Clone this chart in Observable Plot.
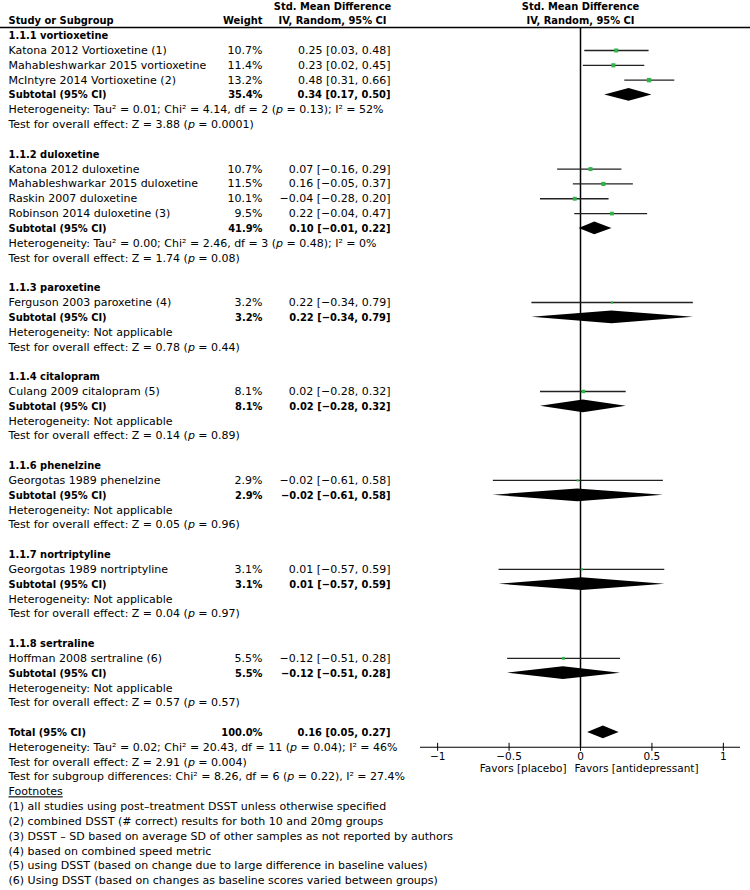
<!DOCTYPE html>
<html>
<head>
<meta charset="utf-8">
<script src="https://cdn.jsdelivr.net/npm/d3@7"></script>
<script src="https://cdn.jsdelivr.net/npm/@observablehq/plot@0.6"></script>
<style>
  html, body { margin: 0; padding: 0; background: #fff; }
</style>
</head>
<body>
<div id="chart"></div>
<script>
// ---------- DATA ----------
const groupLabels = ["1.1.1 vortioxetine", "1.1.2 duloxetine", "1.1.3 paroxetine", "1.1.4 citalopram", "1.1.6 phenelzine", "1.1.7 nortriptyline", "1.1.8 sertraline"];

const studyNames = [
  "Katona 2012 Vortioxetine (1)", "Mahableshwarkar 2015 vortioxetine", "McIntyre 2014 Vortioxetine (2)",
  "Katona 2012 duloxetine", "Mahableshwarkar 2015 duloxetine", "Raskin 2007 duloxetine", "Robinson 2014 duloxetine (3)",
  "Ferguson 2003 paroxetine (4)", "Culang 2009 citalopram (5)", "Georgotas 1989 phenelzine",
  "Georgotas 1989 nortriptyline", "Hoffman 2008 sertraline (6)"
];
const studyGroup  = [0, 0, 0, 1, 1, 1, 1, 2, 3, 4, 5, 6];
const studyWeight = [10.7, 11.4, 13.2, 10.7, 11.5, 10.1, 9.5, 3.2, 8.1, 2.9, 3.1, 5.5];
const studySMD    = [0.25, 0.23, 0.48, 0.07, 0.16, -0.04, 0.22, 0.22, 0.02, -0.02, 0.01, -0.12];
const studyLo     = [0.03, 0.02, 0.31, -0.16, -0.05, -0.28, -0.04, -0.34, -0.28, -0.61, -0.57, -0.51];
const studyHi     = [0.48, 0.45, 0.66, 0.29, 0.37, 0.20, 0.47, 0.79, 0.32, 0.58, 0.59, 0.28];

const subtotalWeight = [35.4, 41.9, 3.2, 8.1, 2.9, 3.1, 5.5];
const subtotalSMD    = [0.34, 0.10, 0.22, 0.02, -0.02, 0.01, -0.12];
const subtotalLo     = [0.17, -0.01, -0.34, -0.28, -0.61, -0.57, -0.51];
const subtotalHi     = [0.50, 0.22, 0.79, 0.32, 0.58, 0.59, 0.28];

const heterogeneity = [
  "Heterogeneity: Tau² = 0.01; Chi² = 4.14, df = 2 (p = 0.13); I² = 52%",
  "Heterogeneity: Tau² = 0.00; Chi² = 2.46, df = 3 (p = 0.48); I² = 0%",
  "Heterogeneity: Not applicable",
  "Heterogeneity: Not applicable",
  "Heterogeneity: Not applicable",
  "Heterogeneity: Not applicable",
  "Heterogeneity: Not applicable"
];
const overallEffect = [
  "Test for overall effect: Z = 3.88 (p = 0.0001)",
  "Test for overall effect: Z = 1.74 (p = 0.08)",
  "Test for overall effect: Z = 0.78 (p = 0.44)",
  "Test for overall effect: Z = 0.14 (p = 0.89)",
  "Test for overall effect: Z = 0.05 (p = 0.96)",
  "Test for overall effect: Z = 0.04 (p = 0.97)",
  "Test for overall effect: Z = 0.57 (p = 0.57)"
];

const totalWeight = 100.0;
const totalSMD = 0.16, totalLo = 0.05, totalHi = 0.27;
const totalNotes = [
  "Heterogeneity: Tau² = 0.02; Chi² = 20.43, df = 11 (p = 0.04); I² = 46%",
  "Test for overall effect: Z = 2.91 (p = 0.004)",
  "Test for subgroup differences: Chi² = 8.26, df = 6 (p = 0.22), I² = 27.4%"
];
const footnotes = [
  "(1) all studies using post–treatment DSST unless otherwise specified",
  "(2) combined DSST (# correct) results for both 10 and 20mg groups",
  "(3) DSST – SD based on average SD of other samples as not reported by authors",
  "(4) based on combined speed metric",
  "(5) using DSST (based on change due to large difference in baseline values)",
  "(6) Using DSST (based on changes as baseline scores varied between groups)"
];

const tickValues = [-1, -0.5, 0, 0.5, 1];
const tickLabels = ["−1", "−0.5", "0", "0.5", "1"];
const favorsLeft = "Favors [placebo]";
const favorsRight = "Favors [antidepressant]";

// ---------- LAYOUT ----------
const xDomain = [-1.12, 1.12];
const fmt2 = d3.format(".2f");
const fmtW = d => d3.format(".1f")(d) + "%";
const ciText = (e, l, h) => `${fmt2(e)} [${fmt2(l)}, ${fmt2(h)}]`;

const studyRow = [], labelRow = [], subtotalRow = [], hetRow = [], testRow = [];
let r = 2;
groupLabels.forEach((g, gi) => {
  labelRow.push(r);
  const idx = studyGroup.map((v, i) => v === gi ? i : -1).filter(i => i >= 0);
  idx.forEach((i, k) => studyRow[i] = r + 1 + k);
  subtotalRow.push(r + idx.length + 1);
  hetRow.push(r + idx.length + 2);
  testRow.push(r + idx.length + 3);
  r += idx.length + 5;
});
const totalRow = r;
const axisRow = totalRow + 1;
const headerLineRow = 1.45;
const lastRow = totalRow + 4 + footnotes.length;

const studies = studyNames.map((name, i) => ({
  name, row: studyRow[i], w: studyWeight[i], smd: studySMD[i], lo: studyLo[i], hi: studyHi[i]
}));
const summaries = subtotalSMD.map((e, i) => ({
  id: "g" + i, row: subtotalRow[i], w: subtotalWeight[i], smd: e, lo: subtotalLo[i], hi: subtotalHi[i]
})).concat([{ id: "total", row: totalRow, w: totalWeight, smd: totalSMD, lo: totalLo, hi: totalHi }]);

const diamondHalf = 0.43;
const diamondPts = summaries.flatMap(s => [
  { id: s.id, y: s.row - diamondHalf, x1: s.smd, x2: s.smd },
  { id: s.id, y: s.row, x1: s.lo, x2: s.hi },
  { id: s.id, y: s.row + diamondHalf, x1: s.smd, x2: s.smd }
]);

// Left-column texts
const normalName = [
  ...studies.map(s => ({ row: s.row, text: s.name })),
  ...heterogeneity.map((t, i) => ({ row: hetRow[i], text: t })),
  ...overallEffect.map((t, i) => ({ row: testRow[i], text: t })),
  ...totalNotes.map((t, i) => ({ row: totalRow + 1 + i, text: t })),
  { row: totalRow + 4, text: "Footnotes" },
  ...footnotes.map((t, i) => ({ row: totalRow + 5 + i, text: t }))
];
const boldName = [
  { row: 1, text: "Study or Subgroup" },
  ...groupLabels.map((t, i) => ({ row: labelRow[i], text: t })),
  ...subtotalRow.map(rw => ({ row: rw, text: "Subtotal (95% CI)" })),
  { row: totalRow, text: "Total (95% CI)" }
];
const normalWeight = studies.map(s => ({ row: s.row, text: fmtW(s.w) }));
const boldWeight = [{ row: 1, text: "Weight" }, ...summaries.map(s => ({ row: s.row, text: fmtW(s.w) }))];
const normalCI = studies.map(s => ({ row: s.row, text: ciText(s.smd, s.lo, s.hi) }));
const boldCI = summaries.map(s => ({ row: s.row, text: ciText(s.smd, s.lo, s.hi) }));
const headerLines = [{ row: 0, text: "Std. Mean Difference" }, { row: 1, text: "IV, Random, 95% CI" }];

const green = "#2fb44a";
const boldFont = "'DejaVu Sans Condensed', 'DejaVu Sans', sans-serif";

const svg = Plot.plot({
  width: 750,
  height: 890,
  marginTop: 0, marginBottom: 0, marginLeft: 0, marginRight: 0,
  style: { fontFamily: "'DejaVu Sans', sans-serif", fontSize: "11px", color: "#000", background: "#fff", overflow: "visible" },
  x: { domain: xDomain, range: [420, 740], axis: null },
  y: { domain: [0, lastRow], range: [5.5, 5.5 + lastRow * 14.826], axis: null },
  r: { domain: [0, d3.max(studyWeight)], range: [0, 2.5] },
  marks: [
    // header rule
    Plot.ruleY([headerLineRow], { stroke: "#000", strokeWidth: 1.3 }),
    // zero line
    Plot.ruleX([0], { y1: headerLineRow, y2: axisRow, stroke: "#000", strokeWidth: 1.5 }),
    // axis line + ticks
    Plot.ruleY([axisRow], { x1: xDomain[0], x2: xDomain[1], stroke: "#000", strokeWidth: 1.1 }),
    Plot.ruleX(tickValues, { y1: axisRow - 0.27, y2: axisRow + 0.27, stroke: "#000", strokeWidth: 1 }),
    Plot.text(tickValues, { x: d => d, y: axisRow + 0.64, text: (d, i) => tickLabels[i], fill: "#000", fontSize: 10.5 }),
    Plot.text([favorsLeft], { x: 0, y: axisRow + 1.45, text: d => d, textAnchor: "end", dx: -14, fill: "#000", fontSize: 10.5 }),
    Plot.text([favorsRight], { x: 0, y: axisRow + 1.45, text: d => d, textAnchor: "start", dx: -6, fill: "#000", fontSize: 10.5 }),
    // study CIs and squares
    Plot.ruleY(studies, { y: "row", x1: "lo", x2: "hi", stroke: "#222", strokeWidth: 1.3 }),
    Plot.dot(studies, { x: "smd", y: "row", r: "w", symbol: "square", fill: green, stroke: null }),
    // diamonds
    Plot.areaX(diamondPts, { y: "y", x1: "x1", x2: "x2", z: "id", fill: "#000", curve: "linear" }),
    // right header
    Plot.text(headerLines, { x: () => 0, y: "row", text: "text", fontWeight: "bold", fontFamily: boldFont, fill: "#000" }),
    // left table
    Plot.text(headerLines, { frameAnchor: "left", dx: 332, y: "row", text: "text", textAnchor: "middle", fontWeight: "bold", fontFamily: boldFont, fill: "#000" }),
    Plot.text(normalName, { frameAnchor: "left", dx: 8, y: "row", text: "text", textAnchor: "start", fill: "#000" }),
    Plot.text(boldName, { frameAnchor: "left", dx: 8, y: "row", text: "text", textAnchor: "start", fontWeight: "bold", fontFamily: boldFont, fill: "#000" }),
    Plot.text(normalWeight, { frameAnchor: "left", dx: 262, y: "row", text: "text", textAnchor: "end", fill: "#000" }),
    Plot.text(boldWeight, { frameAnchor: "left", dx: 262, y: "row", text: "text", textAnchor: "end", fontWeight: "bold", fontFamily: boldFont, fill: "#000" }),
    Plot.text(normalCI, { frameAnchor: "left", dx: 390, y: "row", text: "text", textAnchor: "end", fill: "#000" }),
    Plot.text(boldCI, { frameAnchor: "left", dx: 390, y: "row", text: "text", textAnchor: "end", fontWeight: "bold", fontFamily: boldFont, fill: "#000" })
  ]
});

// italic p and underlined "Footnotes"
d3.select(svg).selectAll("text").each(function () {
  const t = this.textContent;
  if (t === "Footnotes") { this.setAttribute("text-decoration", "underline"); return; }
  if (!t.includes("(p =")) return;
  const parts = t.split("(p =");
  this.textContent = "";
  parts.forEach((s, i) => {
    if (i > 0) {
      this.appendChild(document.createTextNode("("));
      const ts = document.createElementNS("http://www.w3.org/2000/svg", "tspan");
      ts.setAttribute("font-style", "italic");
      ts.textContent = "p";
      this.appendChild(ts);
      this.appendChild(document.createTextNode(" ="));
    }
    this.appendChild(document.createTextNode(s));
  });
});

document.getElementById("chart").appendChild(svg);
</script>
</body>
</html>
